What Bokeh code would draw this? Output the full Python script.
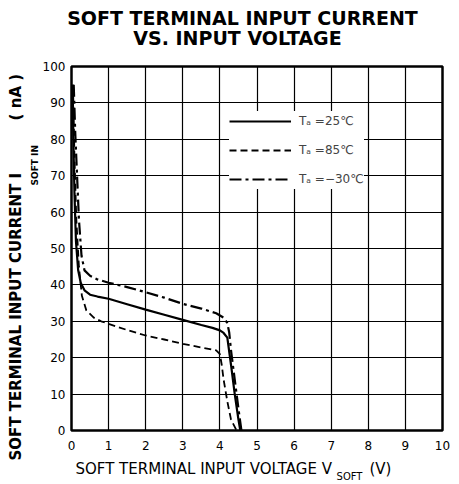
from bokeh.plotting import figure
from bokeh.models import Legend, LegendItem, FixedTicker, Range1d, Title, LinearAxis
from bokeh.embed import file_html
from bokeh.resources import INLINE

# ---- data ----
x_ticks = [0, 1, 2, 3, 4, 5, 6, 7, 8, 9, 10]
y_ticks = [0, 10, 20, 30, 40, 50, 60, 70, 80, 90, 100]

v_25 = [0.03, 0.05, 0.08, 0.12, 0.18, 0.25, 0.35, 0.5, 0.7, 1.0, 1.5, 2.0, 2.5, 3.0, 3.5, 3.8, 4.0, 4.1, 4.2, 4.3, 4.4, 4.5, 4.55]
i_25 = [95, 80, 65, 52, 44, 40.5, 38.5, 37.3, 36.8, 36.2, 34.7, 33.2, 31.8, 30.4, 29.0, 28.2, 27.5, 26.8, 25.5, 18, 10, 3, 0]

v_85 = [0.04, 0.08, 0.13, 0.2, 0.28, 0.4, 0.6, 0.8, 1.0, 1.5, 2.0, 2.5, 3.0, 3.5, 3.9, 4.0, 4.05, 4.1, 4.2, 4.3, 4.45]
i_85 = [95, 75, 58, 45, 37, 33, 31, 30, 29.3, 27.6, 26.1, 25, 23.8, 22.8, 22, 21, 18, 14, 8, 3, 0]

v_m30 = [0.06, 0.1, 0.15, 0.2, 0.27, 0.35, 0.5, 0.7, 1.0, 1.5, 2.0, 2.5, 3.0, 3.5, 3.9, 4.1, 4.2, 4.25, 4.3, 4.4, 4.5, 4.58]
i_m30 = [95, 82, 70, 58, 48, 44, 42.5, 41.5, 40.6, 39.4, 38, 36.5, 34.8, 33.5, 32.2, 31, 29.5, 27, 22, 14, 6, 0]

labels = ["T\u2090 =25\u2103", "T\u2090 =85\u2103", "T\u2090 =\u221230\u2103"]

title_1 = "SOFT TERMINAL INPUT CURRENT"
title_2 = "VS. INPUT VOLTAGE"
xlabel_main = "SOFT TERMINAL INPUT VOLTAGE V\u2003\u2003\u2002(V)"
xlabel_sub = "SOFT"
ylabel_main = "SOFT TERMINAL INPUT CURRENT I\u2003\u2003\u2003\u2002( nA )"
ylabel_sub = "SOFT IN"

FONT = "DejaVu Sans"

p = figure(frame_width=371, frame_height=364,
           min_border_left=71, min_border_right=17,
           min_border_top=66, min_border_bottom=54,
           x_range=Range1d(0, 10), y_range=Range1d(0, 100),
           output_backend="svg", toolbar_location=None,
           background_fill_color="white", border_fill_color="white")
p.title.visible = False

for ax in (p.xaxis, p.yaxis):
    ax.axis_line_color = None
    ax.major_tick_line_color = None
    ax.minor_tick_line_color = None
    ax.major_tick_out = 0
    ax.major_tick_in = 0
    ax.major_label_text_font = FONT
    ax.major_label_text_font_size = "12px"
    ax.major_label_text_color = "black"
p.xaxis.ticker = FixedTicker(ticks=x_ticks)
p.yaxis.ticker = FixedTicker(ticks=y_ticks)
p.xaxis.major_label_standoff = 10
p.yaxis.major_label_standoff = 6

p.xgrid.ticker = FixedTicker(ticks=x_ticks)
p.ygrid.ticker = FixedTicker(ticks=y_ticks)
for g in (p.xgrid, p.ygrid):
    g.grid_line_color = "black"
    g.grid_line_width = 1.2
    g.grid_line_alpha = 1.0

p.outline_line_color = "black"
p.outline_line_width = 2.5
p.outline_line_alpha = 1.0

r1 = p.line(v_25, i_25, line_color="black", line_width=2.2)
r2 = p.line(v_85, i_85, line_color="black", line_width=1.8, line_dash="7 4")
r3 = p.line(v_m30, i_m30, line_color="black", line_width=2.2, line_dash="12 4 3 4")

legend = Legend(items=[LegendItem(label=labels[0], renderers=[r1]),
                       LegendItem(label=labels[1], renderers=[r2]),
                       LegendItem(label=labels[2], renderers=[r3])],
                location=(158, 241))
legend.glyph_width = 62
legend.glyph_height = 20
legend.label_height = 20
legend.spacing = 9
legend.padding = 5
legend.margin = 0
legend.label_standoff = 8
legend.label_text_font = FONT
legend.label_text_font_size = "12px"
legend.border_line_color = None
legend.background_fill_color = "white"
legend.background_fill_alpha = 1.0
p.add_layout(legend, "center")

def mk_title(text, size, bold, align, offset, standoff):
    return Title(text=text, text_font=FONT, text_font_size=size,
                 text_font_style="bold" if bold else "normal",
                 text_color="black", align=align, offset=offset,
                 standoff=standoff)

# helper pixel range for text-only axes
p.extra_x_ranges = {"px": Range1d(0, 371)}

def text_axis(pos, text, size, bold, standoff):
    ax = LinearAxis(x_range_name="px", ticker=FixedTicker(ticks=[pos]),
                    major_label_overrides={pos: text})
    ax.axis_line_color = None
    ax.major_tick_line_color = None
    ax.minor_tick_line_color = None
    ax.major_tick_out = 0
    ax.major_tick_in = 0
    ax.major_label_standoff = standoff
    ax.major_label_text_font = FONT
    ax.major_label_text_font_size = size
    ax.major_label_text_font_style = "bold" if bold else "normal"
    ax.major_label_text_color = "black"
    return ax

# title: two text-only axes stacked above the frame
p.add_layout(text_axis(166, title_2, "19px", True, 18), "above")
p.add_layout(text_axis(171, title_1, "19px", True, -5), "above")

# x axis label: main text, then the subscript pulled up next to the "V"
p.add_layout(mk_title(xlabel_main, "15px", False, "left", 4, 10), "below")
p.add_layout(text_axis(278, xlabel_sub, "10px", False, -12), "below")

# y axis label
p.add_layout(mk_title(ylabel_sub, "9px", True, "left", 245, 0), "left")
p.add_layout(mk_title(ylabel_main, "15px", True, "left", -30, 6), "left")

open("out.html", "w").write(file_html(p, INLINE))
